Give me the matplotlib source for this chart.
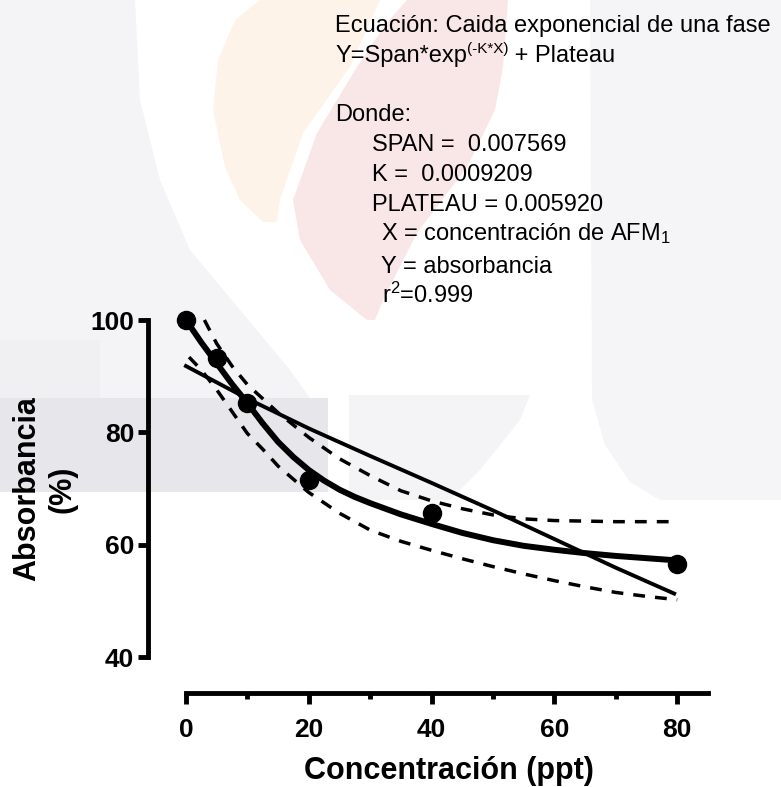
import numpy as np
import matplotlib
matplotlib.use("Agg")
import matplotlib.pyplot as plt
from matplotlib.patches import Polygon

plt.rcParams['font.family'] = ['Liberation Sans', 'DejaVu Sans']
plt.rcParams['mathtext.fontset'] = 'custom'
plt.rcParams['mathtext.rm'] = 'Liberation Sans'
plt.rcParams['mathtext.it'] = 'Liberation Sans:italic'
plt.rcParams['mathtext.bf'] = 'Liberation Sans:bold'
plt.rcParams['mathtext.default'] = 'regular'

# measured points
conc = [0, 5, 10, 20, 40, 80]
absorb = [100, 93.2, 85.2, 71.5, 65.7, 56.6]

# one phase decay fit
fit_x = [0, 2.5, 5, 7.5, 10, 12.5, 15, 17.5, 20, 22.5, 25, 27.5, 30, 35, 40, 45, 50, 55, 60, 65, 70, 75, 80]
fit_y = [100, 96.0, 92.3, 88.6, 85.2, 81.6, 78.3, 75.6, 73.3, 71.4, 69.8, 68.5, 67.4, 65.4, 63.7,
         62.1, 60.8, 59.8, 59.1, 58.5, 58.0, 57.6, 57.2]

# thin near-linear line
lin_x = [0, 10, 20, 30, 40, 50, 60, 70, 79.5]
lin_y = [91.8, 86.0, 80.7, 75.8, 71.0, 66.1, 61.0, 55.9, 51.3]

# confidence band (dashed)
up_x = [3, 5, 7.5, 10, 12.5, 15, 20, 25, 30, 35, 40, 45, 50, 55, 60, 70, 80]
up_y = [100, 95.8, 91.8, 88.5, 86.0, 83.5, 79.1, 75.3, 72.3, 69.6, 67.8, 66.4, 65.3, 64.6, 64.3, 64.1, 64.1]
lo_x = [0.5, 2.5, 5, 7.5, 10, 12.5, 15, 20, 25, 30, 35, 40, 45, 50, 55, 60, 65, 70, 75, 80]
lo_y = [93.4, 91.1, 87.6, 83.7, 79.8, 77.0, 74.0, 69.3, 65.6, 62.6, 60.6, 59.0, 57.5, 56.1, 54.8, 53.6, 52.5, 51.5, 50.8, 50.2]

x_major = [0, 20, 40, 60, 80]
x_minor = [10, 30, 50, 70]
y_major = [40, 60, 80, 100]

W, H = 781, 787
fig = plt.figure(figsize=(W / 100, H / 100), dpi=100)
fig.patch.set_facecolor('white')


def fx(px):
    return px / W


def fy(py):
    return 1 - py / H


def shape(pts, color):
    poly = Polygon([(fx(a), fy(b)) for a, b in pts], closed=True,
                   transform=fig.transFigure, fc=color, ec='none', zorder=-5)
    fig.add_artist(poly)


# faint watermark in the background
shape([(0, 0), (135, 0), (140, 100), (160, 180), (190, 250), (240, 310), (290, 370), (310, 398), (0, 398)],
      '#f4f4f7')
shape([(0, 340), (100, 340), (100, 398), (0, 398)], '#f0f0f3')
shape([(0, 398), (328, 398), (328, 492), (0, 492)], '#e7e6eb')
shape([(349, 395), (530, 395), (520, 420), (480, 470), (450, 500), (349, 500)], '#f4f4f7')
shape([(590, 0), (781, 0), (781, 500), (660, 500), (630, 482), (605, 445), (592, 400)], '#f5f5f8')
shape([(260, 0), (380, 0), (350, 67), (303, 133), (280, 200), (277, 222), (263, 222), (240, 200),
       (225, 167), (213, 110), (218, 60), (235, 20)], '#fdf3e9')
shape([(407, 0), (508, 0), (503, 67), (495, 110), (467, 167), (417, 233), (383, 300), (375, 320),
       (367, 320), (330, 290), (300, 240), (293, 200), (317, 133), (357, 67), (385, 25)], '#f9e6e6')

ax = fig.add_axes([fx(147.9), fy(693), (711 - 147.9) / W, (693 - 309.9) / H])
ax.set_facecolor('none')
ax.set_xlim(-6.2, 85.5)
ax.set_ylim(33.6, 101.8)

for s in ['top', 'right']:
    ax.spines[s].set_visible(False)
ax.spines['left'].set_bounds(40, 100)
ax.spines['bottom'].set_bounds(0, 85)
for s in ['left', 'bottom']:
    ax.spines[s].set_linewidth(3.5)

ax.set_xticks(x_major)
ax.set_xticks(x_minor, minor=True)
ax.set_yticks(y_major)
ax.tick_params(axis='x', which='major', length=8, width=3.5, pad=10, labelsize=19)
ax.tick_params(axis='x', which='minor', length=4.5, width=3.5)
ax.tick_params(axis='y', which='major', length=7, width=3.5, pad=3, labelsize=19)
for lab in ax.get_xticklabels() + ax.get_yticklabels():
    lab.set_fontweight('bold')

ax.plot(lin_x, lin_y, color='black', lw=2.8, clip_on=False, zorder=3, solid_joinstyle='round')
ax.plot(up_x, up_y, color='black', lw=2.5, ls=(0, (3.4, 2.9)), clip_on=False, zorder=3)
ax.plot(lo_x, lo_y, color='black', lw=2.5, ls=(0, (3.4, 2.9)), clip_on=False, zorder=3)
ax.plot(fit_x, fit_y, color='black', lw=4.3, clip_on=False, zorder=4, solid_joinstyle='round')
ax.plot(conc, absorb, 'o', color='black', ms=13, clip_on=False, zorder=5)

fig.text(fx(449), fy(779), 'Concentración (ppt)', ha='center', va='baseline',
         fontsize=22, fontweight='bold')
fig.text(fx(45), fy(489), 'Absorbancia\n(%)', rotation=90, ha='center', va='center',
         ma='center', fontsize=22, fontweight='bold', linespacing=1.2)

# equation block
fs = 17
fig.text(fx(335), fy(32), 'Ecuación: Caida exponencial de una fase', fontsize=fs, va='baseline')
renderer = fig.canvas.get_renderer()
t1 = fig.text(fx(335), fy(62), 'Y=Span*exp', fontsize=fs, va='baseline')
bb = t1.get_window_extent(renderer)
t2 = fig.text(bb.x1 / W, fy(53), '(-K*X)', fontsize=11, va='baseline')
bb = t2.get_window_extent(renderer)
fig.text(bb.x1 / W, fy(62), ' + Plateau', fontsize=fs, va='baseline')
fig.text(fx(335), fy(121), 'Donde:', fontsize=fs, va='baseline')
fig.text(fx(372), fy(151), 'SPAN =  0.007569', fontsize=fs, va='baseline')
fig.text(fx(372), fy(181), 'K =  0.0009209', fontsize=fs, va='baseline')
fig.text(fx(372), fy(211), 'PLATEAU = 0.005920', fontsize=fs, va='baseline')
fig.text(fx(381), fy(240), 'X = concentración de AFM$_1$', fontsize=fs, va='baseline')
fig.text(fx(381), fy(273), 'Y = absorbancia', fontsize=fs, va='baseline')
fig.text(fx(382), fy(303), 'r$^2$=0.999', fontsize=fs, va='baseline')

fig.savefig('out.png', dpi=100)
